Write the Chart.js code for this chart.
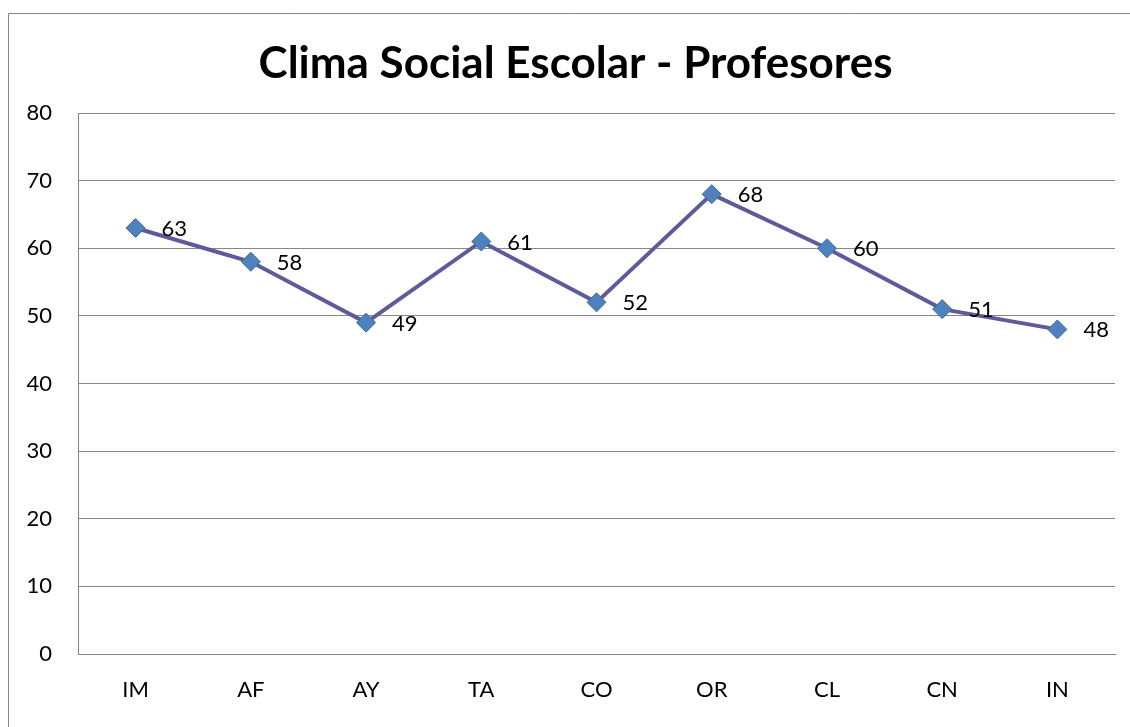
<!DOCTYPE html>
<html>
<head>
<meta charset="utf-8">
<script src="https://cdn.jsdelivr.net/npm/chart.js@4/dist/chart.umd.min.js"></script>
<style>
  html, body { margin: 0; padding: 0; background: #ffffff; overflow: hidden; }
  #wrap { width: 1130px; height: 727px; position: relative; }
  canvas { display: block; }
</style>
</head>
<body>
<div id="wrap"><canvas id="c"></canvas></div>
<script>
const categories = ['IM', 'AF', 'AY', 'TA', 'CO', 'OR', 'CL', 'CN', 'IN'];
const values = [63, 58, 49, 61, 52, 68, 60, 51, 48];
const titleText = 'Clima Social Escolar - Profesores';
const yMin = 0, yMax = 80, yStep = 10;

const FONT = 'Lato, "Open Sans", sans-serif';

const frame = {
  id: 'frame',
  beforeDraw(chart) {
    const ctx = chart.ctx;
    ctx.save();
    ctx.fillStyle = '#ffffff';
    ctx.fillRect(0, 0, chart.width, chart.height);
    ctx.strokeStyle = '#868686';
    ctx.lineWidth = 1;
    ctx.beginPath();
    ctx.moveTo(8.5, chart.height + 5);
    ctx.lineTo(8.5, 13.5);
    ctx.lineTo(chart.width + 5, 13.5);
    ctx.stroke();
    // chart title
    ctx.font = 'bold 44px ' + FONT;
    ctx.fillStyle = '#000000';
    ctx.textAlign = 'center';
    ctx.textBaseline = 'middle';
    ctx.fillText(titleText, 575.5, 64);
    ctx.restore();
  },
  afterDraw(chart) {
    const ctx = chart.ctx;
    ctx.save();
    ctx.fillStyle = '#ffffff';
    ctx.fillRect(chart.chartArea.right + 1, 14, chart.width, chart.height);
    ctx.restore();
  }
};

const valueLabels = {
  id: 'valueLabels',
  afterDatasetsDraw(chart) {
    const ctx = chart.ctx;
    const meta = chart.getDatasetMeta(0);
    ctx.save();
    ctx.font = '22px ' + FONT;
    ctx.fillStyle = '#000000';
    ctx.textAlign = 'left';
    ctx.textBaseline = 'middle';
    meta.data.forEach((pt, i) => {
      ctx.fillText(String(chart.data.datasets[0].data[i]), pt.x + 26, pt.y + 1);
    });
    ctx.restore();
  }
};

new Chart(document.getElementById('c'), {
  type: 'line',
  data: {
    labels: categories,
    datasets: [{
      data: values,
      borderColor: '#5E5B9A',
      borderWidth: 4,
      tension: 0,
      pointStyle: 'rectRot',
      pointRadius: 9.5,
      pointHoverRadius: 9.5,
      pointBackgroundColor: '#4F81BD',
      pointBorderColor: '#3F6A9E',
      pointBorderWidth: 1
    }]
  },
  options: {
    responsive: true,
    maintainAspectRatio: false,
    devicePixelRatio: 1,
    animation: false,
    events: [],
    layout: { padding: { left: 0, right: 15, top: 113, bottom: 0 } },
    plugins: {
      legend: { display: false },
      tooltip: { enabled: false },
      title: { display: false }
    },
    scales: {
      x: {
        type: 'category',
        offset: true,
        grid: { display: false, drawTicks: false },
        border: { display: true, color: '#868686', width: 1 },
        ticks: { color: '#000000', font: { family: FONT, size: 22, lineHeight: 1.2 }, padding: 23, maxRotation: 0 },
        afterFit(s) { s.height = 73; }
      },
      y: {
        min: yMin,
        max: yMax,
        grid: { color: '#868686', lineWidth: 1, drawTicks: false },
        border: { display: true, color: '#868686', width: 1 },
        ticks: { stepSize: yStep, color: '#000000', font: { family: FONT, size: 22, lineHeight: 1.2 }, padding: 26 },
        afterFit(s) { s.width = 78; }
      }
    }
  },
  plugins: [frame, valueLabels]
});
</script>
</body>
</html>
